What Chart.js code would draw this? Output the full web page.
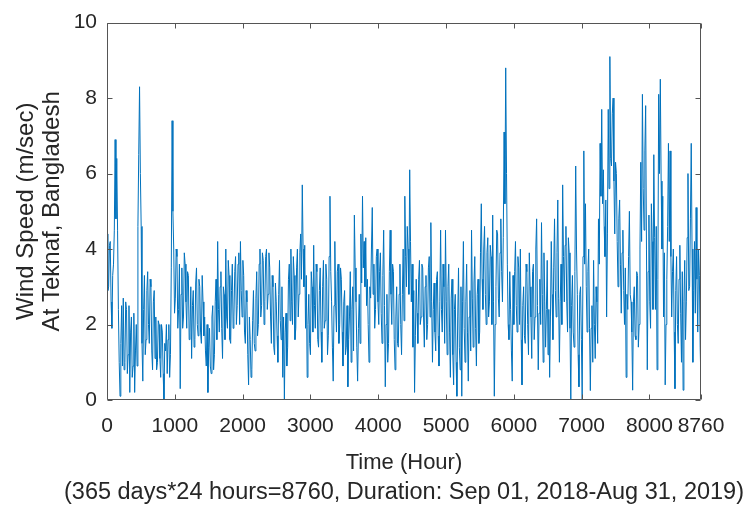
<!DOCTYPE html>
<html>
<head>
<meta charset="utf-8">
<script src="https://cdn.jsdelivr.net/npm/chart.js@4"></script>
<style>
  html, body { margin: 0; padding: 0; background: #fff; }
  #wrap { width: 749px; height: 512px; }
</style>
</head>
<body>
<div id="wrap"><canvas id="myChart" width="749" height="512"></canvas></div>
<script>
// speedDay at hour 24*d, speedHalf at hour 24*d + 12
const stepHours = 24;
const speedDay = [
    4.4, 3.0, 4.2, 1.9, 3.6, 6.9, 6.4, 2.4, 0.1, 2.5,
    2.7, 1.0, 2.4, 1.2, 0.2, 2.2, 0.9, 0.2, 2.0, 4.6,
    8.3, 4.6, 0.5, 3.3, 1.6, 3.4, 1.5, 3.0, 0.8, 2.9,
    2.2, 1.0, 2.0, 0.6, 1.8, 0.0, 1.3, 0.7, 2.0, 1.2,
    7.4, 4.0, 2.7, 3.8, 2.4, 0.3, 3.5, 2.2, 3.6, 1.9,
    3.3, 1.8, 1.1, 2.9, 1.6, 3.5, 1.7, 3.0, 1.5, 2.6,
    2.2, 0.9, 0.2, 1.9, 0.7, 2.5, 1.2, 3.2, 4.2, 1.8,
    3.4, 1.1, 2.8, 4.0, 1.9, 3.3, 1.5, 3.6, 2.2, 3.8,
    2.5, 3.9, 4.2, 2.2, 3.3, 1.5, 2.6, 0.4, 1.6, 0.8,
    2.9, 1.3, 3.4, 2.0, 4.0, 2.5, 3.7, 2.6, 4.0, 2.8,
    3.5, 1.5, 3.0, 1.2, 2.6, 1.0, 3.7, 1.6, 0.6, 0.0,
    2.3, 1.4, 3.6, 4.0, 2.0, 3.3, 1.9, 4.0, 2.8, 4.4,
    5.7, 3.0, 1.9, 0.6, 2.8, 1.2, 3.0, 4.1, 1.9, 3.4,
    1.4, 3.5, 1.0, 3.7, 2.1, 3.2, 1.7, 5.4, 2.6, 0.5,
    4.2, 1.8, 3.6, 2.0, 3.2, 0.9, 2.9, 1.4, 0.35, 2.2,
    1.0, 3.0, 4.9, 2.6, 0.5, 2.8, 4.4, 5.4, 4.2, 4.3,
    3.2, 1.0, 2.7, 5.1, 3.6, 2.4, 4.0, 2.0, 3.9, 1.5,
    4.5, 0.35, 2.8, 1.5, 4.5, 2.0, 3.4, 0.8, 3.0, 1.4,
    3.6, 1.2, 4.0, 5.4, 3.0, 4.0, 6.1, 2.6, 1.4, 0.2,
    3.2, 1.5, 3.7, 2.2, 3.5, 1.4, 3.3, 2.0, 3.8, 4.7,
    1.0, 3.1, 1.3, 3.4, 0.9, 4.5, 1.8, 3.0, 4.5, 1.2,
    3.6, 0.6, 3.2, 0.4, 2.8, 0.1, 3.5, 0.8, 0.1, 4.2,
    1.0, 3.6, 0.5, 2.9, 4.5, 1.4, 3.8, 0.9, 3.2, 1.8,
    5.2, 2.4, 4.6, 2.0, 4.3, 2.6, 3.8, 4.9, 0.1, 3.0,
    4.4, 2.2, 4.8, 2.6, 7.1, 8.8, 3.6, 1.6, 2.4, 0.5,
    2.0, 4.2, 1.8, 3.5, 4.0, 0.4, 3.0, 1.5, 3.4, 1.2,
    3.0, 1.1, 3.6, 2.2, 4.8, 0.8, 3.2, 4.7, 1.0, 2.6,
    2.4, 1.2, 0.6, 4.2, 1.6, 4.8, 2.2, 5.3, 1.0, 3.6,
    5.7, 2.6, 4.6, 1.8, 3.9, 0.0, 3.3, 1.4, 6.2, 2.8,
    0.35, 3.0, 0.0, 6.6, 5.2, 1.8, 4.0, 0.25, 2.5, 3.7,
    1.1, 2.6, 4.8, 6.8, 7.7, 6.1, 3.8, 2.2, 7.7, 9.1,
    6.2, 8.0, 4.4, 6.0, 3.0, 5.3, 2.3, 4.5, 2.0, 0.6,
    2.4, 5.0, 2.6, 0.26, 3.0, 1.6, 3.3, 2.0, 6.3, 8.1,
    4.5, 7.8, 0.8, 4.9, 1.9, 4.2, 6.5, 2.4, 0.8, 8.1,
    8.5, 4.0, 2.2, 0.4, 3.2, 6.8, 6.6, 2.2, 4.0, 0.3,
    3.8, 1.5, 4.1, 1.0, 0.26, 3.7, 2.6, 6.0, 3.0, 6.8,
    1.0, 4.2, 5.1, 1.8, 3.3, 0.35
];
const speedHalf = [
    2.9, 4.1, 2.6, 3.3, 4.5, 4.8, 4.5, 1.0, 1.5, 0.9,
    0.8, 2.6, 0.7, 2.5, 1.8, 0.6, 2.3, 1.3, 0.9, 6.5,
    6.0, 1.5, 2.4, 1.2, 2.9, 2.0, 3.2, 1.3, 2.6, 1.1,
    0.8, 2.1, 1.1, 2.0, 0.7, 1.5, 2.0, 1.6, 0.6, 3.5,
    5.0, 2.3, 4.0, 1.9, 3.6, 2.8, 1.9, 3.9, 2.6, 3.4,
    1.6, 3.0, 2.5, 1.4, 3.1, 2.0, 3.2, 1.8, 3.3, 1.7,
    1.3, 2.0, 1.4, 0.9, 2.2, 0.8, 2.6, 1.6, 2.4, 3.0,
    1.9, 3.0, 1.6, 2.2, 3.7, 1.6, 2.9, 1.9, 3.4, 2.0,
    3.6, 2.0, 2.9, 3.7, 1.8, 2.9, 1.2, 2.2, 0.6, 2.1,
    1.5, 2.7, 1.7, 3.6, 2.2, 3.9, 2.0, 3.8, 2.4, 3.9,
    2.2, 3.3, 1.4, 3.1, 1.7, 2.8, 2.1, 3.0, 2.2, 1.8,
    0.9, 3.2, 2.1, 2.6, 3.8, 1.6, 3.5, 2.2, 3.9, 3.2,
    4.0, 4.1, 3.3, 2.0, 1.5, 3.4, 1.8, 2.5, 3.6, 1.6,
    2.9, 1.8, 3.0, 1.9, 3.6, 1.2, 3.8, 3.4, 1.4, 2.5,
    2.5, 3.4, 1.5, 3.5, 1.8, 2.6, 1.2, 2.5, 1.6, 3.4,
    2.4, 1.3, 3.5, 1.4, 1.9, 1.5, 3.1, 3.5, 3.0, 2.5,
    2.0, 3.0, 4.0, 2.8, 1.9, 3.8, 2.6, 3.4, 2.3, 3.3,
    2.5, 2.0, 1.0, 3.4, 2.8, 3.6, 1.6, 2.2, 1.5, 2.8,
    2.0, 2.8, 2.1, 3.8, 4.6, 2.8, 4.2, 3.6, 2.9, 1.7,
    2.3, 3.2, 2.0, 3.6, 2.2, 3.0, 1.6, 3.5, 2.2, 2.6,
    2.4, 1.8, 3.2, 1.7, 2.6, 2.4, 3.6, 1.5, 2.6, 3.0,
    1.8, 2.7, 1.2, 2.4, 1.0, 2.2, 1.4, 3.0, 2.6, 1.9,
    2.6, 1.8, 2.2, 1.3, 2.7, 3.1, 1.9, 2.8, 1.5, 3.9,
    3.2, 4.0, 2.8, 3.9, 2.2, 4.1, 2.0, 2.6, 2.0, 4.5,
    2.7, 3.9, 3.4, 4.3, 5.2, 6.0, 2.0, 3.4, 1.3, 3.3,
    3.4, 2.5, 3.8, 2.0, 1.6, 2.5, 1.7, 3.6, 2.0, 3.9,
    2.2, 3.4, 1.6, 4.0, 2.5, 2.3, 2.0, 2.8, 3.9, 1.4,
    3.7, 2.4, 2.2, 2.8, 3.5, 2.9, 3.9, 2.7, 2.6, 2.0,
    3.8, 4.1, 2.6, 4.3, 1.9, 2.5, 1.8, 3.4, 4.0, 1.2,
    2.8, 1.6, 3.8, 3.6, 3.0, 3.4, 1.9, 1.9, 1.0, 2.0,
    3.0, 1.5, 3.6, 5.4, 5.2, 4.6, 5.3, 4.4, 5.6, 6.4,
    7.6, 5.8, 6.3, 4.2, 4.8, 3.6, 3.9, 2.9, 3.5, 2.8,
    3.8, 2.8, 1.8, 2.6, 1.7, 3.4, 1.4, 4.0, 4.2, 5.6,
    6.6, 4.0, 3.4, 2.6, 5.2, 2.4, 4.3, 4.6, 3.2, 6.0,
    5.8, 5.4, 3.9, 2.0, 4.6, 4.2, 3.8, 3.4, 1.8, 2.9,
    2.0, 3.2, 2.3, 3.4, 2.6, 1.6, 4.3, 2.9, 4.8, 4.0,
    2.9, 2.3, 3.2, 4.0, 1.4
];
const xTicks = [0, 1000, 2000, 3000, 4000, 5000, 6000, 7000, 8000, 8760];
const yTicks = [0, 2, 4, 6, 8, 10];

const yTitle = ['Wind Speed (m/sec)', 'At Teknaf, Bangladesh'];
const xTitle = 'Time (Hour)';
const xNote = '(365 days*24 hours=8760, Duration: Sep 01, 2018-Aug 31, 2019)';

const textColor = '#262626';
const boxColor = '#555555';
const fontFamily = '"Liberation Sans", Arial, Helvetica, sans-serif';

// interleave the two readings into one hourly series
const points = [];
speedDay.forEach((v, i) => {
    points.push({ x: i * stepHours, y: v });
    if (i < speedHalf.length) points.push({ x: i * stepHours + stepHours / 2, y: speedHalf[i] });
});

// matlab style box with inward ticks + the note under the x title
const boxPlugin = {
    id: 'boxPlugin',
    afterDatasetsDraw(chart) {
        const ctx = chart.ctx;
        const a = chart.chartArea;
        const xs = chart.scales.x, ys = chart.scales.y;
        const L = Math.round(a.left) + 0.5, R = Math.round(a.right) - 0.5;
        const T = Math.round(a.top) + 0.5, B = Math.round(a.bottom) - 0.5;
        const len = 5;
        ctx.save();
        ctx.strokeStyle = boxColor;
        ctx.lineWidth = 1;
        ctx.beginPath();
        ctx.rect(L, T, R - L, B - T);
        xTicks.forEach(t => {
            const px = Math.round(xs.getPixelForValue(t)) + 0.5;
            ctx.moveTo(px, B); ctx.lineTo(px, B - len);
            ctx.moveTo(px, T); ctx.lineTo(px, T + len);
        });
        yTicks.forEach(t => {
            const py = Math.round(ys.getPixelForValue(t)) + 0.5;
            ctx.moveTo(L, py); ctx.lineTo(L + len, py);
            ctx.moveTo(R, py); ctx.lineTo(R - len, py);
        });
        ctx.stroke();
        ctx.restore();
    },
    afterDraw(chart) {
        const ctx = chart.ctx;
        const a = chart.chartArea;
        ctx.save();
        ctx.fillStyle = textColor;
        ctx.font = '23.5px ' + fontFamily;
        ctx.textAlign = 'center';
        ctx.textBaseline = 'middle';
        ctx.fillText(xNote, (a.left + a.right) / 2, 493);
        ctx.restore();
    }
};

const config = {
    type: 'line',
    data: {
        datasets: [{
            data: points,
            borderColor: '#0072BD',
            borderWidth: 1,
            pointRadius: 0,
            tension: 0,
            fill: false
        }]
    },
    options: {
        responsive: false,
        animation: false,
        layout: { padding: { top: 15, right: 48, left: 0, bottom: 0 } },
        plugins: {
            legend: { display: false },
            tooltip: { enabled: false }
        },
        scales: {
            x: {
                type: 'linear',
                min: 0,
                max: 8760,
                afterBuildTicks: scale => { scale.ticks = xTicks.map(v => ({ value: v })); },
                afterFit: scale => { scale.height = 112; },
                grid: { display: false, drawTicks: false },
                border: { display: false },
                ticks: {
                    autoSkip: false,
                    maxRotation: 0,
                    padding: 14,
                    color: textColor,
                    font: { family: fontFamily, size: 21 },
                    callback: v => String(v)
                },
                title: {
                    display: true,
                    text: xTitle,
                    color: textColor,
                    font: { family: fontFamily, size: 22 },
                    padding: { top: 0, bottom: 36 }
                }
            },
            y: {
                min: 0,
                max: 10,
                afterBuildTicks: scale => { scale.ticks = yTicks.map(v => ({ value: v })); },
                afterFit: scale => { scale.width = 107; },
                grid: { display: false, drawTicks: false },
                border: { display: false },
                ticks: {
                    padding: 10,
                    color: textColor,
                    font: { family: fontFamily, size: 21 },
                    callback: v => String(v)
                },
                title: {
                    display: true,
                    text: yTitle,
                    color: textColor,
                    font: { family: fontFamily, size: 24, lineHeight: 1.08 },
                    padding: { top: 13, bottom: 0 }
                }
            }
        }
    },
    plugins: [boxPlugin]
};

const myChart = new Chart(document.getElementById('myChart'), config);
</script>
</body>
</html>
